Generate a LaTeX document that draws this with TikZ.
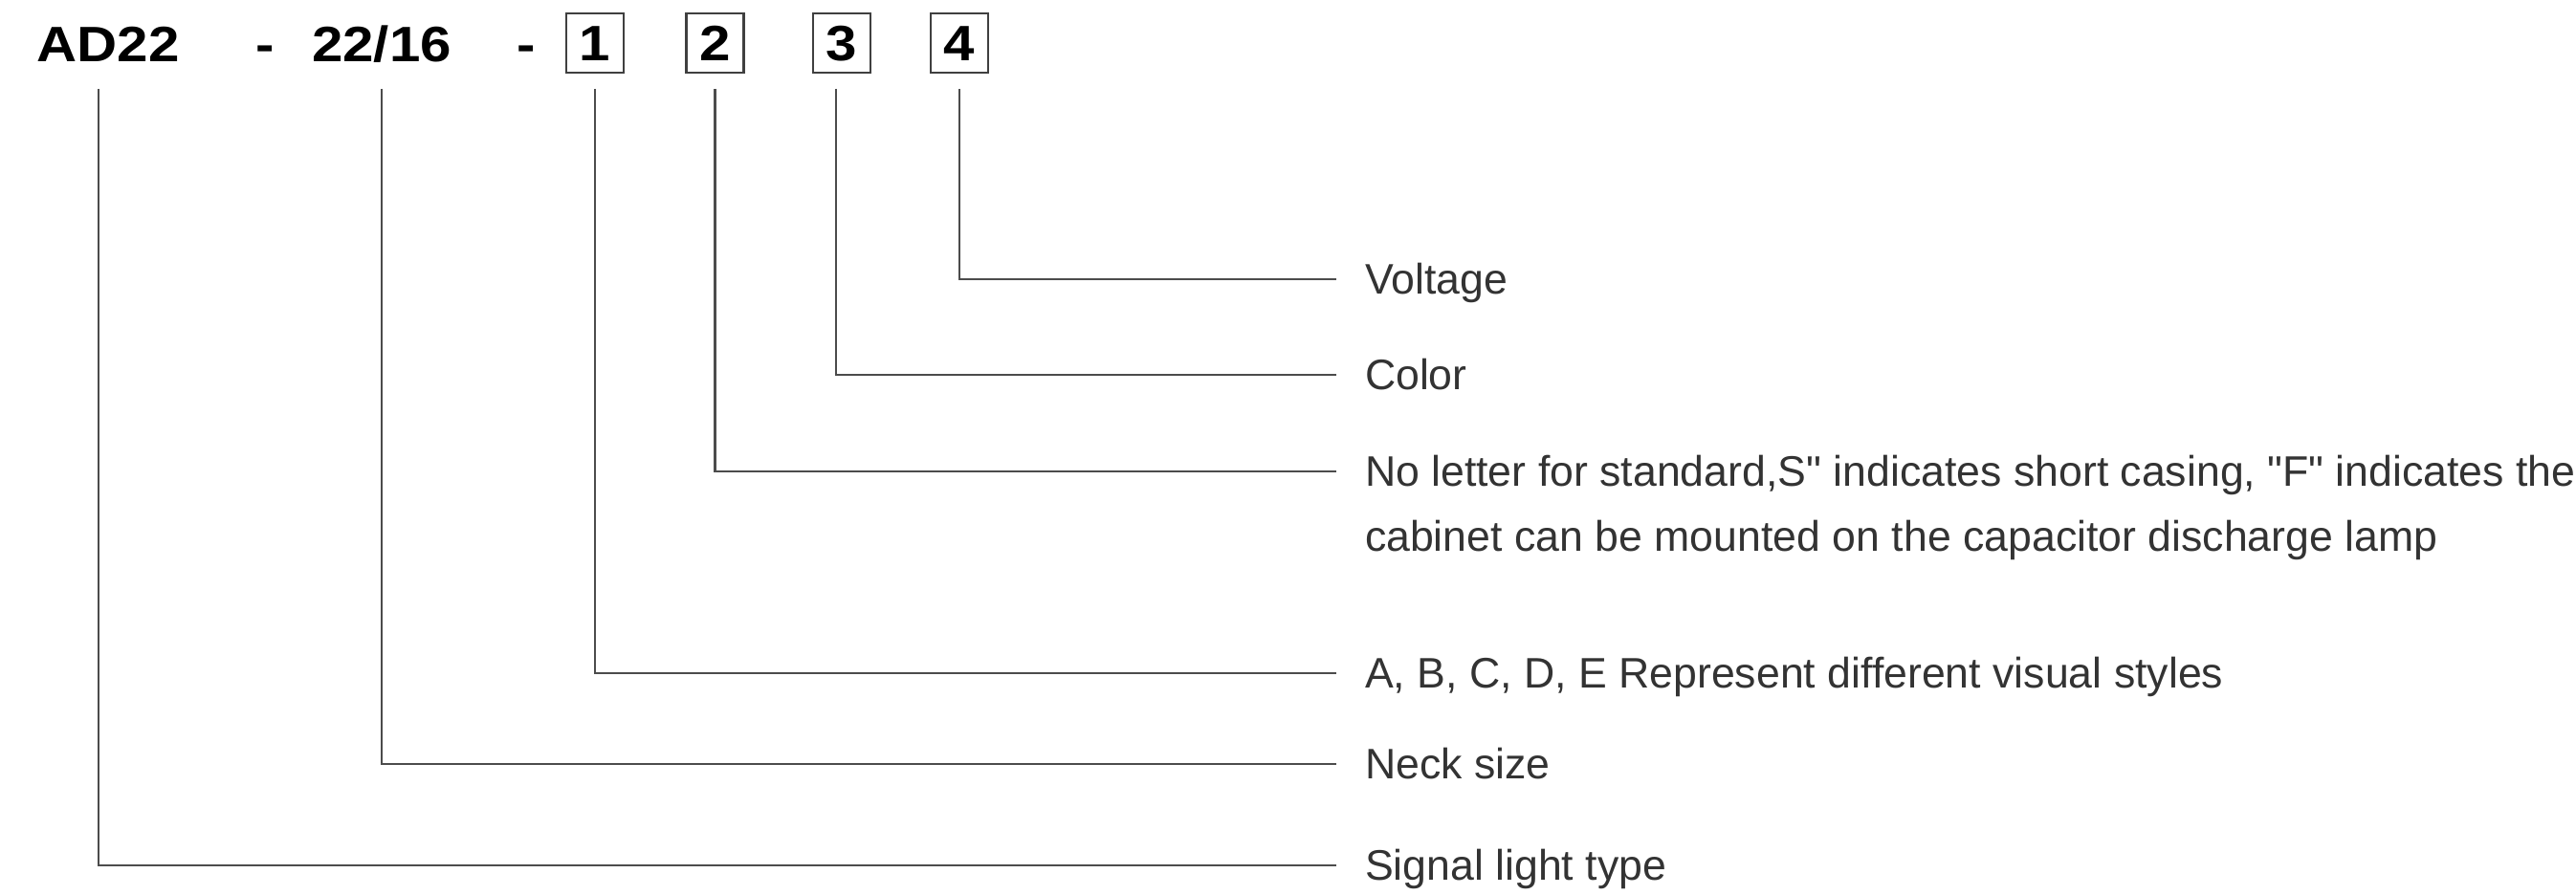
\documentclass[tikz,border=0pt]{standalone}
\usepackage{fontspec}
\setmainfont{Liberation Sans}
\newfontfamily\codefont[FakeStretch=1.12]{Liberation Sans}
\newfontfamily\remarkfont{Liberation Sans}

\tikzset{
  code/.style={font=\codefont\bfseries\fontsize{14.8}{18}\selectfont, inner sep=0pt},
  digit/.style={code, draw=black!75, line width=0.6pt, text height=10.6pt, text depth=0pt,
    minimum width=0.60cm, minimum height=0.62cm},
  remark/.style={anchor=west, inner sep=0pt, outer xsep=0.3cm, text=black!80,
    text height=9pt, text depth=0pt, font=\remarkfont\fontsize{12.7}{15}\selectfont},
  leader/.style={line width=0.6pt, draw=black!70},
}

\begin{document}
\begin{tikzpicture}
\useasboundingbox (0,0) rectangle (26.93,-9.36);

% model code
\node[code, anchor=base west] (type) at (0.38,-0.65) {AD22};
\node[code, anchor=base] (dashA) at (2.77,-0.65) {-};
\node[code, anchor=base] (neck) at (3.99,-0.65) {22/16};
\node[code, anchor=base] (dashB) at (5.50,-0.65) {-};
\node[digit] (style) at (6.22,-0.45) {1};
\node[digit] (casing) at (7.475,-0.45) {2};
\node[digit] (color) at (8.80,-0.45) {3};
\node[digit] (volt) at (10.03,-0.45) {4};
\coordinate (top) at (0,-0.93);

% meanings
\node[remark] (lVolt) at (13.97,-2.92) {Voltage};
\node[remark] (lColor) at (13.97,-3.92) {Color};
\node[remark] (lCasing) at (13.97,-4.93) {No letter for standard,S" indicates short casing, "F" indicates the};
\node[remark] (lCasingB) at (13.97,-5.61) {cabinet can be mounted on the capacitor discharge lamp};
\node[remark] (lStyle) at (13.97,-7.04) {A, B, C, D, E Represent different visual styles};
\node[remark] (lNeck) at (13.97,-7.99) {Neck size};
\node[remark] (lType) at (13.97,-9.05) {Signal light type};

% leaders
\draw[leader] ([xshift=-0.1cm]type |- top) |- (lType.west);
\draw[leader] (neck |- top) |- (lNeck.west);
\draw[leader] (style |- top) |- (lStyle.west);
\draw[leader] (casing |- top) |- (lCasing.west);
\draw[leader] ([xshift=-0.06cm]color |- top) |- (lColor.west);
\draw[leader] (volt |- top) |- (lVolt.west);
\end{tikzpicture}
\end{document}
